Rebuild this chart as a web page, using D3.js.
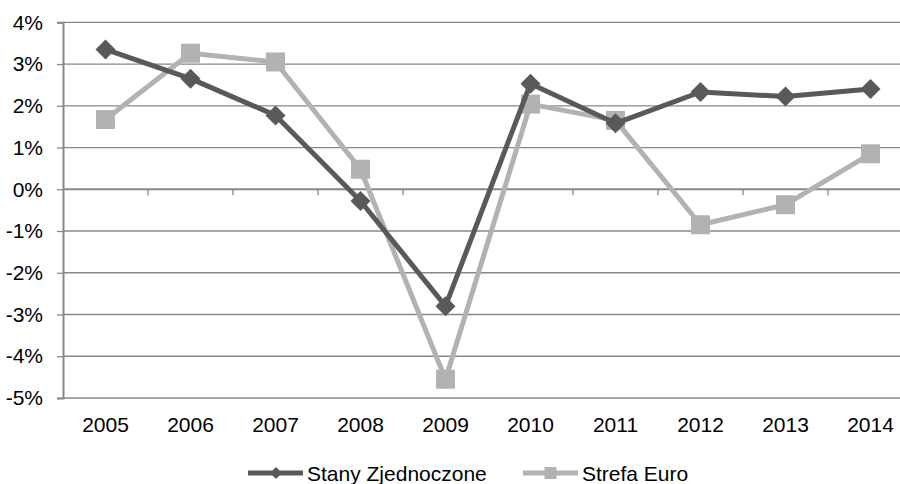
<!DOCTYPE html>
<html>
<head>
<meta charset="utf-8">
<script src="https://cdn.jsdelivr.net/npm/d3@7"></script>
<style>
  html, body { margin: 0; padding: 0; background: #ffffff; }
  svg { display: block; }
  text { font-family: "Liberation Sans", Arial, sans-serif; fill: #000; }
</style>
</head>
<body>
<svg id="chart" width="900" height="484"></svg>
<script>
// GDP growth, year over year (%)
const years = ["2005","2006","2007","2008","2009","2010","2011","2012","2013","2014"];
const usValues = [3.35, 2.65, 1.77, -0.28, -2.80, 2.53, 1.58, 2.33, 2.22, 2.40];
const euroValues = [1.67, 3.26, 3.05, 0.48, -4.55, 2.04, 1.65, -0.85, -0.37, 0.85];
const yTicks = [4, 3, 2, 1, 0, -1, -2, -3, -4, -5];
const seriesNames = ["Stany Zjednoczone", "Strefa Euro"];

const svg = d3.select("#chart");
const plotLeft = 63, plotRight = 913, plotTop = 22.3, plotBottom = 398;
const fontSize = 21;

const x = d3.scaleBand().domain(years).range([plotLeft, plotRight]).padding(0);
const y = d3.scaleLinear().domain([-5, 4]).range([plotBottom, plotTop]);
const cx = d => x(d) + x.bandwidth() / 2;

const gridColor = "#878787";

// horizontal gridlines
svg.append("g")
  .selectAll("line")
  .data(yTicks.filter(t => t !== 0))
  .join("line")
  .attr("x1", plotLeft).attr("x2", plotRight)
  .attr("y1", d => y(d)).attr("y2", d => y(d))
  .attr("stroke", gridColor).attr("stroke-width", 1.3);

// y axis
const yAxis = d3.axisLeft(y).tickValues(yTicks).tickSize(6).tickPadding(14)
  .tickFormat(d => d + "%");
const gy = svg.append("g").attr("transform", `translate(${plotLeft},0)`).call(yAxis);
gy.select(".domain").attr("stroke", gridColor).attr("stroke-width", 2);
gy.selectAll(".tick line").attr("stroke", gridColor).attr("stroke-width", 1.3);
gy.selectAll(".tick text").attr("font-size", fontSize).attr("font-family", "Liberation Sans, Arial, sans-serif").attr("fill", "#000");

// x axis crossing at zero with tick marks at category boundaries
svg.append("line")
  .attr("x1", plotLeft).attr("x2", plotRight)
  .attr("y1", y(0)).attr("y2", y(0))
  .attr("stroke", gridColor).attr("stroke-width", 2);
svg.append("g")
  .selectAll("line")
  .data(years.slice(1))
  .join("line")
  .attr("x1", d => x(d)).attr("x2", d => x(d))
  .attr("y1", y(0)).attr("y2", y(0) + 6)
  .attr("stroke", gridColor).attr("stroke-width", 1.3);

// category labels below the plot
svg.append("g")
  .selectAll("text")
  .data(years)
  .join("text")
  .attr("x", d => cx(d))
  .attr("y", 432)
  .attr("text-anchor", "middle")
  .attr("font-size", fontSize)
  .text(d => d);

const line = d3.line().x((d, i) => cx(years[i])).y(d => y(d));

const usColor = "#595959", euroColor = "#b2b2b2";

// Strefa Euro series
svg.append("path").datum(euroValues)
  .attr("d", line).attr("fill", "none")
  .attr("stroke", euroColor).attr("stroke-width", 5).attr("stroke-linejoin", "round");
svg.append("g").selectAll("rect").data(euroValues).join("rect")
  .attr("x", (d, i) => cx(years[i]) - 9.5)
  .attr("y", d => y(d) - 9.5)
  .attr("width", 19).attr("height", 19)
  .attr("fill", euroColor);

// Stany Zjednoczone series
svg.append("path").datum(usValues)
  .attr("d", line).attr("fill", "none")
  .attr("stroke", usColor).attr("stroke-width", 5).attr("stroke-linejoin", "round");
const diamond = s => `M0,${-s}L${s},0L0,${s}L${-s},0Z`;
svg.append("g").selectAll("path").data(usValues).join("path")
  .attr("transform", (d, i) => `translate(${cx(years[i])},${y(d)})`)
  .attr("d", diamond(10))
  .attr("fill", usColor);

// legend
const legendY = 473;
const legend = [
  { name: seriesNames[0], color: usColor, x0: 248, marker: "diamond" },
  { name: seriesNames[1], color: euroColor, x0: 523, marker: "square" }
];
const lg = svg.append("g");
legend.forEach(item => {
  lg.append("line")
    .attr("x1", item.x0).attr("x2", item.x0 + 55)
    .attr("y1", legendY).attr("y2", legendY)
    .attr("stroke", item.color).attr("stroke-width", 5);
  if (item.marker === "diamond") {
    lg.append("path")
      .attr("transform", `translate(${item.x0 + 28},${legendY})`)
      .attr("d", diamond(6)).attr("fill", item.color);
  } else {
    lg.append("rect")
      .attr("x", item.x0 + 27.5 - 6).attr("y", legendY - 6)
      .attr("width", 12).attr("height", 12).attr("fill", item.color);
  }
  lg.append("text")
    .attr("x", item.x0 + 59).attr("y", legendY + 7.5)
    .attr("font-size", fontSize)
    .text(item.name);
});
</script>
</body>
</html>
